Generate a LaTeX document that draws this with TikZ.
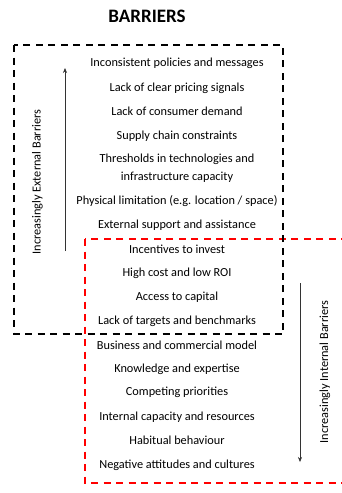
\documentclass[tikz,border=0pt]{standalone}
\usepackage{fontspec}
\setmainfont{Carlito}
\usetikzlibrary{arrows.meta}
\begin{document}
\begin{tikzpicture}[x=1pt,y=-1pt,
  item/.style={font=\fontsize{12.3}{18}\selectfont, align=center, inner sep=0pt},
  side/.style={font=\fontsize{12.3}{14}\selectfont, rotate=90, inner sep=0pt},
  blackbox/.style={draw=black, line width=1.8pt, dash pattern=on 7pt off 5.5pt},
  redbox/.style={draw=red, line width=1.8pt, dash pattern=on 7pt off 5.5pt},
  trend/.style={draw=black!80, line width=0.6pt, -{Stealth[length=5pt,width=4pt]}}]
\useasboundingbox (0,0) rectangle (342,493);
\clip (0,0) rectangle (342,493);
\node[font=\fontsize{19}{22}\selectfont\bfseries, inner sep=0pt] (title) at (147,16) {BARRIERS};
% boxes
\draw[redbox] (85,239) rectangle (360,483);
\draw[blackbox] (14,45) rectangle (283,334);
% items
\node[item] (i1) at (177,63) {Inconsistent policies and messages};
\node[item] (i2) at (177,88) {Lack of clear pricing signals};
\node[item] (i3) at (177,111) {Lack of consumer demand};
\node[item] (i4a) at (177,136) {Supply chain constraints};
\node[item] (i4) at (177,168) {Thresholds in technologies and\\infrastructure capacity};
\node[item] (i5) at (177,201) {Physical limitation (e.g. location / space)};
\node[item] (i6) at (177,225) {External support and assistance};
\node[item] (i7) at (177,249) {Incentives to invest};
\node[item] (i8) at (177,273) {High cost and low ROI};
\node[item] (i9) at (177,297) {Access to capital};
\node[item] (i10) at (177,321) {Lack of targets and benchmarks};
\node[item] (i11) at (177,345) {Business and commercial model};
\node[item] (i12) at (177,369) {Knowledge and expertise};
\node[item] (i13) at (177,392) {Competing priorities};
\node[item] (i14) at (177,417) {Internal capacity and resources};
\node[item] (i15) at (177,440) {Habitual behaviour};
\node[item] (i16) at (177,465) {Negative attitudes and cultures};
% arrows
\coordinate (ua) at (65,251);
\coordinate (ub) at (65,68);
\draw[trend] (ua) -- (ub);
\node[side] (extlab) at (37.5,182) {Increasingly External Barriers};
\coordinate (da) at (300,283);
\coordinate (db) at (300,462);
\draw[trend] (da) -- (db);
\node[side] (intlab) at (325,372) {Increasingly Internal Barriers};
\end{tikzpicture}
\end{document}
